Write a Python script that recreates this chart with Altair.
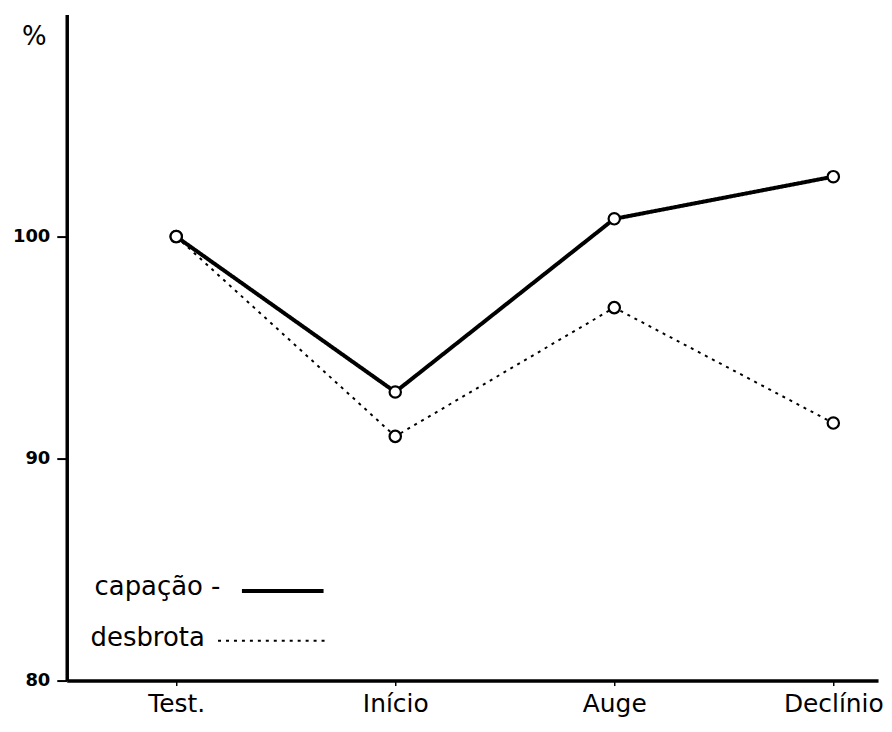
import altair as alt
import pandas as pd

stages = ["Test.", "Início", "Auge", "Declínio"]
capacao = [100.0, 93.0, 100.8, 102.7]
desbrota = [100.0, 91.0, 96.8, 91.6]
series_names = ["capação", "desbrota"]
y_ticks = [80, 90, 100]

rows = []
for s, c, d in zip(stages, capacao, desbrota):
    rows.append({"stage": s, "value": c, "series": series_names[0]})
    rows.append({"stage": s, "value": d, "series": series_names[1]})
df = pd.DataFrame(rows)

FONT = "DejaVu Sans"
W, H = 815, 669

x_enc = alt.X(
    "stage:N", sort=stages,
    scale=alt.Scale(type="point", padding=0.352, align=0.71),
    axis=alt.Axis(title=None, labelAngle=0, labelFontSize=25, labelFont=FONT,
                  labelColor="black", labelPadding=6, tickSize=5, tickWidth=1.5,
                  tickColor="black", domainColor="black", domainWidth=3.5,
                  grid=False),
)
y_enc = alt.Y(
    "value:Q",
    scale=alt.Scale(domain=[80, 110], nice=False, zero=False),
    axis=alt.Axis(values=y_ticks, title="%", titleAngle=0, titleX=-33, titleY=22,
                  titleAlign="center", titleBaseline="middle", titleFontSize=26,
                  titleFont=FONT, titleFontWeight="normal", titleColor="black",
                  labelFontSize=18, labelFont=FONT, labelFontWeight="bold",
                  labelColor="black", labelPadding=7, tickSize=10, tickWidth=2,
                  tickColor="black", domainColor="black", domainWidth=3.5,
                  grid=False, minExtent=52, maxExtent=52),
)

lines = alt.Chart(df).mark_line(color="black").encode(
    x=x_enc, y=y_enc,
    detail="series:N",
    strokeWidth=alt.StrokeWidth("series:N", scale=alt.Scale(domain=series_names, range=[4, 2]), legend=None),
    strokeDash=alt.StrokeDash("series:N", scale=alt.Scale(domain=series_names, range=[[1, 0], [3, 5]]), legend=None),
)
points = alt.Chart(df).mark_point(shape="circle", filled=True, fill="white", stroke="black",
                                  strokeWidth=2.2, size=130, opacity=1).encode(
    x=x_enc, y=y_enc, detail="series:N",
)

legend_text = alt.Chart(pd.DataFrame({"t": ["capação -", "desbrota"], "yy": [575, 626], "xx": [28, 24]})).mark_text(
    align="left", baseline="middle", font=FONT, fontSize=26, color="black"
).encode(x=alt.X("xx:Q", scale=None), y=alt.Y("yy:Q", scale=None), text="t:N")

leg1 = alt.Chart(pd.DataFrame({"a": [0]})).mark_rule(color="black", strokeWidth=4).encode(
    x=alt.value(176), x2=alt.value(258), y=alt.value(579))
leg2 = alt.Chart(pd.DataFrame({"a": [0]})).mark_rule(color="black", strokeWidth=2, strokeDash=[3, 5]).encode(
    x=alt.value(152), x2=alt.value(261), y=alt.value(629))

chart = alt.layer(lines, points, legend_text, leg1, leg2).properties(
    width=W, height=H, padding={"left": 4, "top": 5, "right": 0, "bottom": 5},
    background="white",
).configure_view(stroke=None)

chart.save("out.html", embed_options={"renderer": "svg", "actions": False})
